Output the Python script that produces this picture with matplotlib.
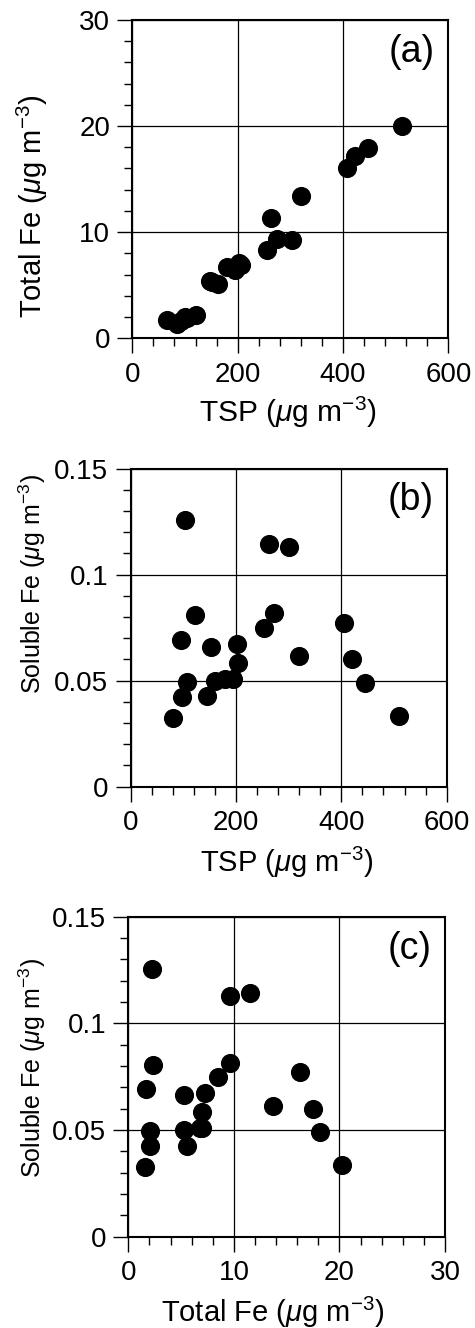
import matplotlib
matplotlib.use('Agg')
import matplotlib.pyplot as plt
from matplotlib.ticker import MultipleLocator, FuncFormatter

# panel (a): TSP vs total Fe
tsp_a = [65, 85, 92, 100, 104, 121, 148, 152, 163, 179, 195, 203, 206, 255, 263, 274, 303, 320, 407, 423, 448, 512]
fe_a = [1.7, 1.3, 1.6, 2.0, 1.9, 2.2, 5.4, 5.3, 5.1, 6.75, 6.45, 7.1, 6.9, 8.3, 11.3, 9.4, 9.3, 13.4, 16.0, 17.2, 17.9, 20.0]

# panel (b): TSP vs soluble Fe
tsp_b = [81, 95, 97, 104, 106, 122, 145, 152, 161, 179, 195, 202, 204, 253, 263, 272, 301, 319, 405, 421, 445, 509]
sol_b = [0.0322, 0.0691, 0.0424, 0.1257, 0.0495, 0.0809, 0.0426, 0.0660, 0.0500, 0.0510, 0.0510, 0.0674, 0.0585, 0.0746, 0.1142, 0.0821, 0.1131, 0.0616, 0.0770, 0.0600, 0.0487, 0.0335]

# panel (c): total Fe vs soluble Fe
fe_c = [1.58, 1.65, 2.05, 2.2, 2.05, 2.37, 5.53, 5.3, 5.3, 6.75, 7.0, 7.26, 7.0, 8.5, 11.5, 9.63, 9.6, 13.7, 16.3, 17.5, 18.2, 20.2]
sol_c = [0.0325, 0.0691, 0.0425, 0.1255, 0.0497, 0.0806, 0.0427, 0.0664, 0.0500, 0.0508, 0.0508, 0.0672, 0.0586, 0.0750, 0.1140, 0.0816, 0.1130, 0.0612, 0.0770, 0.0600, 0.0490, 0.0336]

panel_tags = ['(a)', '(b)', '(c)']
unit = r'($\mathit{\mu}$g m$^{-3}$)'
x_titles = ['TSP ' + unit, 'TSP ' + unit, 'Total Fe ' + unit]
y_titles = ['Total Fe ' + unit, 'Soluble Fe ' + unit, 'Soluble Fe ' + unit]

plt.rcParams['font.family'] = ['Liberation Sans', 'DejaVu Sans']
plt.rcParams['mathtext.fontset'] = 'custom'
plt.rcParams['mathtext.rm'] = 'Liberation Sans'
plt.rcParams['mathtext.it'] = 'Liberation Sans:italic'
plt.rcParams['mathtext.default'] = 'regular'

fig = plt.figure(figsize=(4.75, 13.28), dpi=100)

# axes boxes [left, bottom, width, height] in figure fractions
boxes = [[0.2786, 0.7453, 0.6653, 0.2397],
         [0.2751, 0.4076, 0.6653, 0.2396],
         [0.2702, 0.0688, 0.6667, 0.2410]]
xdata = [tsp_a, tsp_b, fe_c]
ydata = [fe_a, sol_b, sol_c]
xlims = [(0, 600), (0, 600), (0, 30)]
ylims = [(0, 30), (0, 0.15), (0, 0.15)]
xmaj = [200, 200, 10]
xmin = [40, 40, 2]
ymaj = [10, 0.05, 0.05]
ymin = [2, 0.01, 0.01]
ylab_y = [0.416, 0.637, 0.527]
ylab_x = [-0.317, -0.312, -0.304]
ylab_size = [21, 18, 18]
xlab_x = [0.493, 0.494, 0.455]
xlab_y = [-0.262, -0.267, -0.266]
xlab_size = [21.5, 21, 21]

fmt = FuncFormatter(lambda v, p: '%g' % round(v, 4))

for i in range(3):
    ax = fig.add_axes(boxes[i])
    ax.scatter(xdata[i], ydata[i], s=190, c='black', linewidths=0, zorder=3, clip_on=False)
    ax.set_xlim(xlims[i])
    ax.set_ylim(ylims[i])
    ax.xaxis.set_major_locator(MultipleLocator(xmaj[i]))
    ax.xaxis.set_minor_locator(MultipleLocator(xmin[i]))
    ax.yaxis.set_major_locator(MultipleLocator(ymaj[i]))
    ax.yaxis.set_minor_locator(MultipleLocator(ymin[i]))
    ax.xaxis.set_major_formatter(fmt)
    ax.yaxis.set_major_formatter(fmt)
    ax.grid(True, which='major', color='black', linewidth=0.9)
    ax.set_axisbelow(True)
    for sp in ax.spines.values():
        sp.set_linewidth(1.5)
    ax.tick_params(which='major', direction='out', length=11, width=1.0, labelsize=20, pad=6)
    ax.tick_params(which='minor', direction='out', length=5.5, width=1.0)
    ax.tick_params(axis='y', which='major', pad=5)
    ax.text(0.958, 0.90, panel_tags[i], transform=ax.transAxes, ha='right', va='center', fontsize=27)
    ax.text(ylab_x[i], ylab_y[i], y_titles[i], transform=ax.transAxes, rotation=90,
            ha='center', va='center', fontsize=ylab_size[i])
    ax.text(xlab_x[i], xlab_y[i], x_titles[i], transform=ax.transAxes,
            ha='center', va='baseline', fontsize=xlab_size[i])

plt.savefig('out.png', dpi=100)
